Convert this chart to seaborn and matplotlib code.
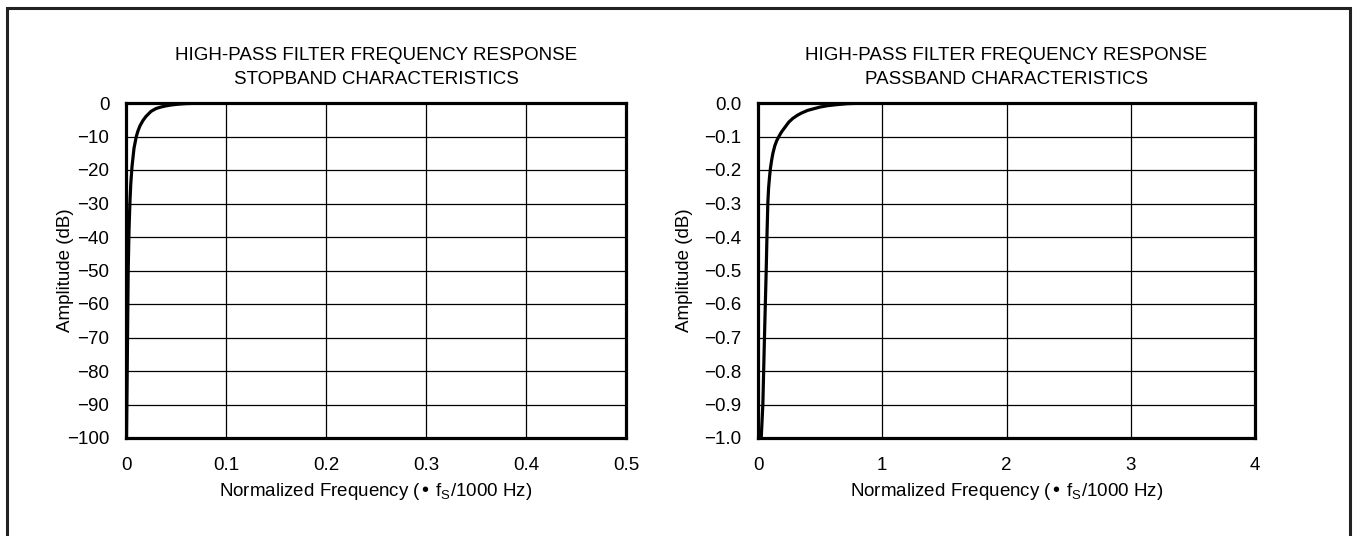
import matplotlib
matplotlib.use('Agg')
import matplotlib.pyplot as plt
import seaborn as sns
import pandas as pd
from matplotlib.patches import Rectangle

sns.set_style("white")
plt.rcParams['font.family'] = ['Liberation Sans', 'DejaVu Sans']
plt.rcParams['text.color'] = 'black'
plt.rcParams['axes.labelcolor'] = 'black'

# Stopband response
stop_freq = [0.0005, 0.0012, 0.0018, 0.0022, 0.0030, 0.0040, 0.0048, 0.0060, 0.0080,
             0.0103, 0.0120, 0.0140, 0.0170, 0.0200, 0.0250, 0.0300, 0.0350, 0.0400,
             0.0450, 0.0500, 0.0550, 0.0600, 0.0680, 0.0800, 0.1, 0.2, 0.3, 0.4, 0.5]
stop_db = [-100, -80, -62, -50, -38, -29, -24, -19, -13.5,
           -10, -8.3, -6.8, -5.2, -4.0, -2.5, -1.65, -1.2, -0.85,
           -0.6, -0.42, -0.28, -0.18, -0.1, -0.04, -0.01, 0, 0, 0, 0]

# Passband response
pass_freq = [0.026, 0.039, 0.052, 0.066, 0.072, 0.079, 0.085, 0.093, 0.10, 0.11,
             0.12, 0.135, 0.15, 0.168, 0.19, 0.22, 0.248, 0.28, 0.32, 0.35,
             0.40, 0.45, 0.50, 0.56, 0.63, 0.72, 0.80, 1, 2, 3, 4]
pass_db = [-1.0, -0.9, -0.7, -0.5, -0.4, -0.3, -0.255, -0.22, -0.195, -0.17,
           -0.15, -0.128, -0.113, -0.1, -0.086, -0.071, -0.057, -0.046, -0.036, -0.030,
           -0.022, -0.017, -0.012, -0.008, -0.005, -0.002, -0.001, 0, 0, 0, 0]

stop_xticks = [0, 0.1, 0.2, 0.3, 0.4, 0.5]
stop_xlabels = ['0', '0.1', '0.2', '0.3', '0.4', '0.5']
stop_yticks = [0, -10, -20, -30, -40, -50, -60, -70, -80, -90, -100]

pass_xticks = [0, 1, 2, 3, 4]
pass_yticks = [0.0, -0.1, -0.2, -0.3, -0.4, -0.5, -0.6, -0.7, -0.8, -0.9, -1.0]

fs = 13.5
xlabel = 'Normalized Frequency (• f$_\\mathregular{S}$/1000 Hz)'

fig = plt.figure(figsize=(13.56, 5.36), dpi=100)
ax1 = fig.add_axes([126/1356, 1 - 438/536, 500/1356, 335/536])
ax2 = fig.add_axes([758/1356, 1 - 438/536, 497/1356, 335/536])

# outer frame
fig.patches.append(Rectangle((7/1356, -0.05), 1343/1356, 1.05 - 8/536,
                             transform=fig.transFigure, fill=False,
                             edgecolor='#222222', linewidth=2.2))

stop_df = pd.DataFrame({'freq': stop_freq, 'db': stop_db})
pass_df = pd.DataFrame({'freq': pass_freq, 'db': pass_db})

sns.lineplot(data=stop_df, x='freq', y='db', ax=ax1, color='black', linewidth=2.3)
sns.lineplot(data=pass_df, x='freq', y='db', ax=ax2, color='black', linewidth=2.3)

def style(ax, title2, xticks, xticklabels, yticks, yticklabels, xlim, ylim, ylab_x):
    ax.set_xlim(*xlim)
    ax.set_ylim(*ylim)
    ax.set_xticks(xticks)
    ax.set_xticklabels(xticklabels)
    ax.set_yticks(yticks)
    ax.set_yticklabels(yticklabels)
    ax.grid(True, color='black', linewidth=0.9)
    for sp in ax.spines.values():
        sp.set_visible(True)
        sp.set_color('black')
        sp.set_linewidth(2.3)
    ax.tick_params(length=0, labelsize=fs, colors='black')
    ax.tick_params(axis='x', pad=14)
    ax.tick_params(axis='y', pad=12)
    ax.set_title('HIGH-PASS FILTER FREQUENCY RESPONSE\n' + title2,
                 fontsize=fs, pad=13.5, linespacing=1.55, color='black')
    ax.set_xlabel(xlabel, fontsize=fs, labelpad=5)
    ax.set_ylabel('Amplitude (dB)', fontsize=fs)
    ax.yaxis.set_label_coords(ylab_x, 0.5)

style(ax1, 'STOPBAND CHARACTERISTICS', stop_xticks, stop_xlabels,
      stop_yticks, ['0'] + ['\u2212%d' % -v for v in stop_yticks[1:]],
      (0, 0.5), (-100, 0), (74 - 126) / 500)
style(ax2, 'PASSBAND CHARACTERISTICS', pass_xticks, [str(v) for v in pass_xticks],
      pass_yticks, ['0.0'] + ['\u2212%.1f' % -v for v in pass_yticks[1:]],
      (0, 4), (-1.0, 0), (693 - 758) / 497)

fig.savefig('out.png', dpi=100)
